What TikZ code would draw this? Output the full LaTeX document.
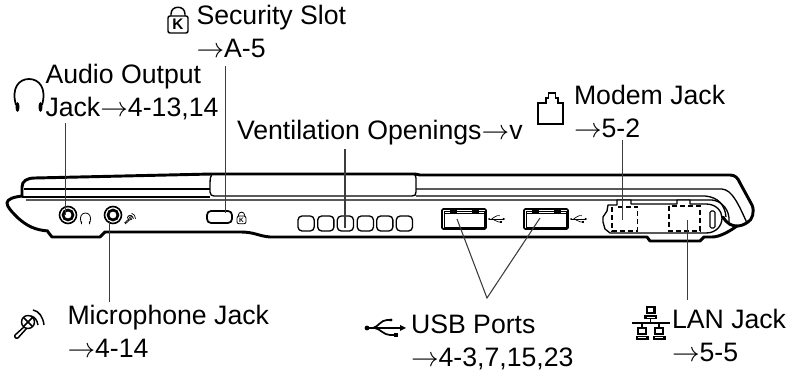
\documentclass[tikz,border=0pt]{standalone}
\usepackage{fontspec}
\setmainfont{Liberation Sans}
\tikzset{every picture/.style={line width=0.75pt}}
\tikzset{
	label text/.style={anchor=base west,inner sep=0pt,align=left,font=\fontsize{20}{24.75}\selectfont},
	leader/.style={line width=0.8pt,color={rgb, 255:red, 60; green, 60; blue, 60 }},
	body thick/.style={line width=2.2pt,line join=round,line cap=round},
	body thin/.style={line width=1pt,line join=round},
	every pic/.style={yscale=-1},
	headphone icon/.pic={
		\draw (-13,16) .. controls (-18,-1) and (-10,-10) .. (0,-10) .. controls (10,-10) and (18,-1) .. (13,16);
		\fill (-11.5,18) ellipse (2 and 5);
		\fill (11.5,18) ellipse (2 and 5);
	},
	lock icon/.pic={
		\draw [rounded corners=1.5] (-10,-2) rectangle (10,15);
		\draw (-7,-2) -- (-7,-4) .. controls (-7,-13) and (7,-13) .. (7,-4) -- (7,-2);
		\draw (0,6.5) node [inner sep=0pt,font=\fontsize{#1}{#1}\selectfont\bfseries] {K};
	},
	mic icon/.pic={
		\draw [rounded corners=1] (-2,3) -- (-13,13) -- (-10,16) -- (0,5);
		\draw [fill=white] (1,-1) circle (6.5);
		\draw (-3.5,-5.5) -- (5.5,3.5) (-3.5,3.5) -- (5.5,-5.5);
		\draw (4,-7) .. controls (8,-6) and (10,-3) .. (11,2);
		\draw (6,-13) .. controls (12,-12) and (16,-6) .. (17,2);
	},
	usb icon/.pic={
		\draw (-19,0) -- (14,0);
		\fill (-19,0) circle (2.4);
		\fill (20,0) -- (14,-3) -- (14,3) -- cycle;
		\draw (-13,0) .. controls (-8,-1) and (-5,-8) .. (1,-8) -- (4,-8);
		\fill (5,-8) circle (1.7);
		\draw (-11,0) .. controls (-6,1) and (-2,7) .. (4,7) -- (8,7);
		\fill (7.5,5) rectangle (11.5,9);
	},
	lan box/.pic={
		\fill (-5,-6.5) rectangle (5,1.5);
		\fill (-6.5,2.2) rectangle (6.5,6.5);
		\fill [white] (-2.8,-4.5) rectangle (2.8,-0.5);
		\fill [white] (-4,3.8) rectangle (4,4.6);
	},
	jack/.pic={
		\draw [line width=1.2pt] (0,0) circle (8.5);
		\draw [line width=2pt] (0,0) circle (5);
	},
	vent/.style={line width=1pt,rounded corners=3},
	usb port/.pic={
		\draw [line width=1.2pt,rounded corners=1] (0,0) rectangle (44,20);
		\draw [line width=0.7pt] (2,2) rectangle (42,18);
		\draw [line width=0.7pt] (2,4.5) -- (42,4.5);
		\fill (8,1.5) rectangle (14.5,4.5);
		\fill (30,1.5) rectangle (36.5,4.5);
	},
}

\begin{document}
\begin{tikzpicture}[x=0.75pt,y=0.75pt,yscale=-1,xscale=1]
	\useasboundingbox (0,0) rectangle (794,374);

	%Shape: Body outline
	\draw [body thick] (22,196) -- (22,187) .. controls (22,181) and (27,178) .. (35,178) -- (212,174) -- (415,174) -- (420,175) -- (730,175) .. controls (735,175) and (738,178) .. (740,183) -- (752,205) .. controls (755,212) and (752,220) .. (748,222) .. controls (744,225) and (740,226) .. (737,226) .. controls (732,226) and (727,224) .. (723,217);
	\draw [body thick] (22,196) .. controls (14,197) and (7,199) .. (7,203) .. controls (7,207) and (12,212) .. (18,218) .. controls (27,226) and (35,230) .. (48,231);
	\draw [body thick] (48,232) -- (52,237) -- (100,237) -- (105,232) -- (240,232) .. controls (255,232) and (258,236) .. (270,237) -- (647,237) -- (650,241) -- (700,241) -- (704,237) -- (712,237) .. controls (720,237) and (730,231) .. (737,226);
	%Shape: Hinge panel
	\draw [body thin] (212,174) .. controls (210,178) and (210,180) .. (210,183) -- (210,192) .. controls (210,195) and (212,196) .. (214,196) -- (412,196) .. controls (415,196) and (416,195) .. (416,192) -- (416,178) .. controls (416,176) and (415,175) .. (414,174);
	\draw [body thin] (24,189) -- (210,189);
	\draw [body thin] (416,189) -- (722,189) .. controls (732,190) and (738,203) .. (747,223);
	\draw [body thin] (22,197) -- (210,197);
	\draw [body thin] (26,200) -- (712,200) .. controls (722,201) and (730,210) .. (729,222);
	\draw [body thin] (416,196) -- (705,196) .. controls (718,197) and (725,205) .. (726,217);
	%Shape: Port opening
	\draw [body thin,fill=white] (617,205) -- (617,200) -- (631,200) -- (631,204) -- (677,204) -- (677,200) -- (690,200) -- (690,204) -- (706,204) .. controls (716,204) and (722,211) .. (722,218) .. controls (722,226) and (716,233) .. (706,233) -- (610,233) -- (605,229) -- (603,222) -- (603,217) -- (607,211) -- (608,205) -- cycle;
	\draw [line width=0.9pt,dash pattern=on 4pt off 2pt] (612,207) -- (612,231) -- (637.5,231) -- (637.5,207) -- (617,207);
	\draw [line width=0.9pt,dash pattern=on 4pt off 2pt] (669,206) -- (669,231) -- (700,231) -- (700,206) -- (669,206);
	\draw [line width=0.8pt,rounded corners=1] (710,211) rectangle (715,228);

	%Shape: Jacks
	\path (68,215) pic {jack};
	\path (113,215) pic {jack};
	\path (85.5,216.5) pic [scale=0.35,line width=0.6pt] {headphone icon};
	\path (129.5,218) pic [scale=0.36,line width=0.5pt] {mic icon};
	%Shape: Security slot
	\draw [vent,line width=1.3pt] (207,211) rectangle (232,223);
	\path (241.5,217) pic [scale=0.45,line width=0.6pt] {lock icon=4.8};
	%Shape: Vents
	\foreach \ventx in {298,317.7,337.3,357.3,376.7,396.3} {
		\draw [vent] (\ventx,216) rectangle ++(16.2,15);
	}
	%Shape: USB ports
	\path (442,209) pic {usb port};
	\path (524,209) pic {usb port};
	\path (497,219) pic [scale=0.42,line width=0.5pt] {usb icon};
	\path (579,219) pic [scale=0.42,line width=0.5pt] {usb icon};

	%Shape: Icons
	\path (29,89) pic [line width=1.3pt] {headphone icon};
	\path (178,18) pic [line width=1.1pt] {lock icon=11.5};
	\draw [line width=1.4pt,line join=miter] (538,124) -- (538,103) -- (546,103) -- (546,98) -- (548.5,98) -- (548.5,93) -- (555.5,93) -- (555.5,98) -- (558,98) -- (558,103) -- (563,103) -- (563,124) -- cycle;
	\path (27,323) pic [line width=1.1pt] {mic icon};
	\path (386,328) pic [line width=1.3pt] {usb icon};
	\draw [line width=1.3pt] (632,323) -- (670,323) (650.5,317) -- (650.5,323) (642,323) -- (642,328) (659,323) -- (659,328);
	\path (650.5,313) pic {lan box};
	\path (642,333.5) pic {lan box};
	\path (659,333.5) pic {lan box};

	% Text Node
	\draw (196,58) node [label text] (security) {Security Slot\\$\rightarrow$A-5};
	% Text Node
	\draw (45,117) node [label text] (audio) {Audio Output\\Jack$\rightarrow$4-13,14};
	% Text Node
	\draw (236.5,140) node [label text] (ventilation) {Ventilation Openings$\rightarrow$v};
	% Text Node
	\draw (573.5,138) node [label text] (modem) {Modem Jack\\$\rightarrow$5-2};
	% Text Node
	\draw (67,358) node [label text] (microphone) {Microphone Jack\\$\rightarrow$4-14};
	% Text Node
	\draw (410.5,367) node [label text] (usb) {USB Ports\\$\rightarrow$4-3,7,15,23};
	% Text Node
	\draw (671.5,362) node [label text] (lan) {LAN Jack\\$\rightarrow$5-5};

	%Leaders
	\coordinate (audio top) at (65.6,123);
	\coordinate (audio port) at (65.6,215);
	\coordinate (security top) at (225.7,66);
	\coordinate (security port) at (225.7,213);
	\coordinate (vent top) at (345,149);
	\coordinate (vent port) at (345,228);
	\coordinate (modem top) at (622.7,140);
	\coordinate (modem port) at (622.7,220);
	\coordinate (mic port) at (109.3,221);
	\coordinate (mic end) at (109.3,302);
	\coordinate (lan port) at (687.3,220);
	\coordinate (lan end) at (687.3,300);
	\coordinate (usb port a) at (457,219);
	\coordinate (usb port b) at (540,218);
	\coordinate (usb end) at (487,298);
	\draw [leader] (audio top) -- (audio port);
	\draw [leader] (security top) -- (security port);
	\draw [leader] (vent top) -- (vent port);
	\draw [leader] (modem top) -- (modem port);
	\draw [leader] (mic port) -- (mic end);
	\draw [leader] (lan port) -- (lan end);
	\draw [leader] (usb port a) -- (usb end) -- (usb port b);

\end{tikzpicture}
\end{document}
